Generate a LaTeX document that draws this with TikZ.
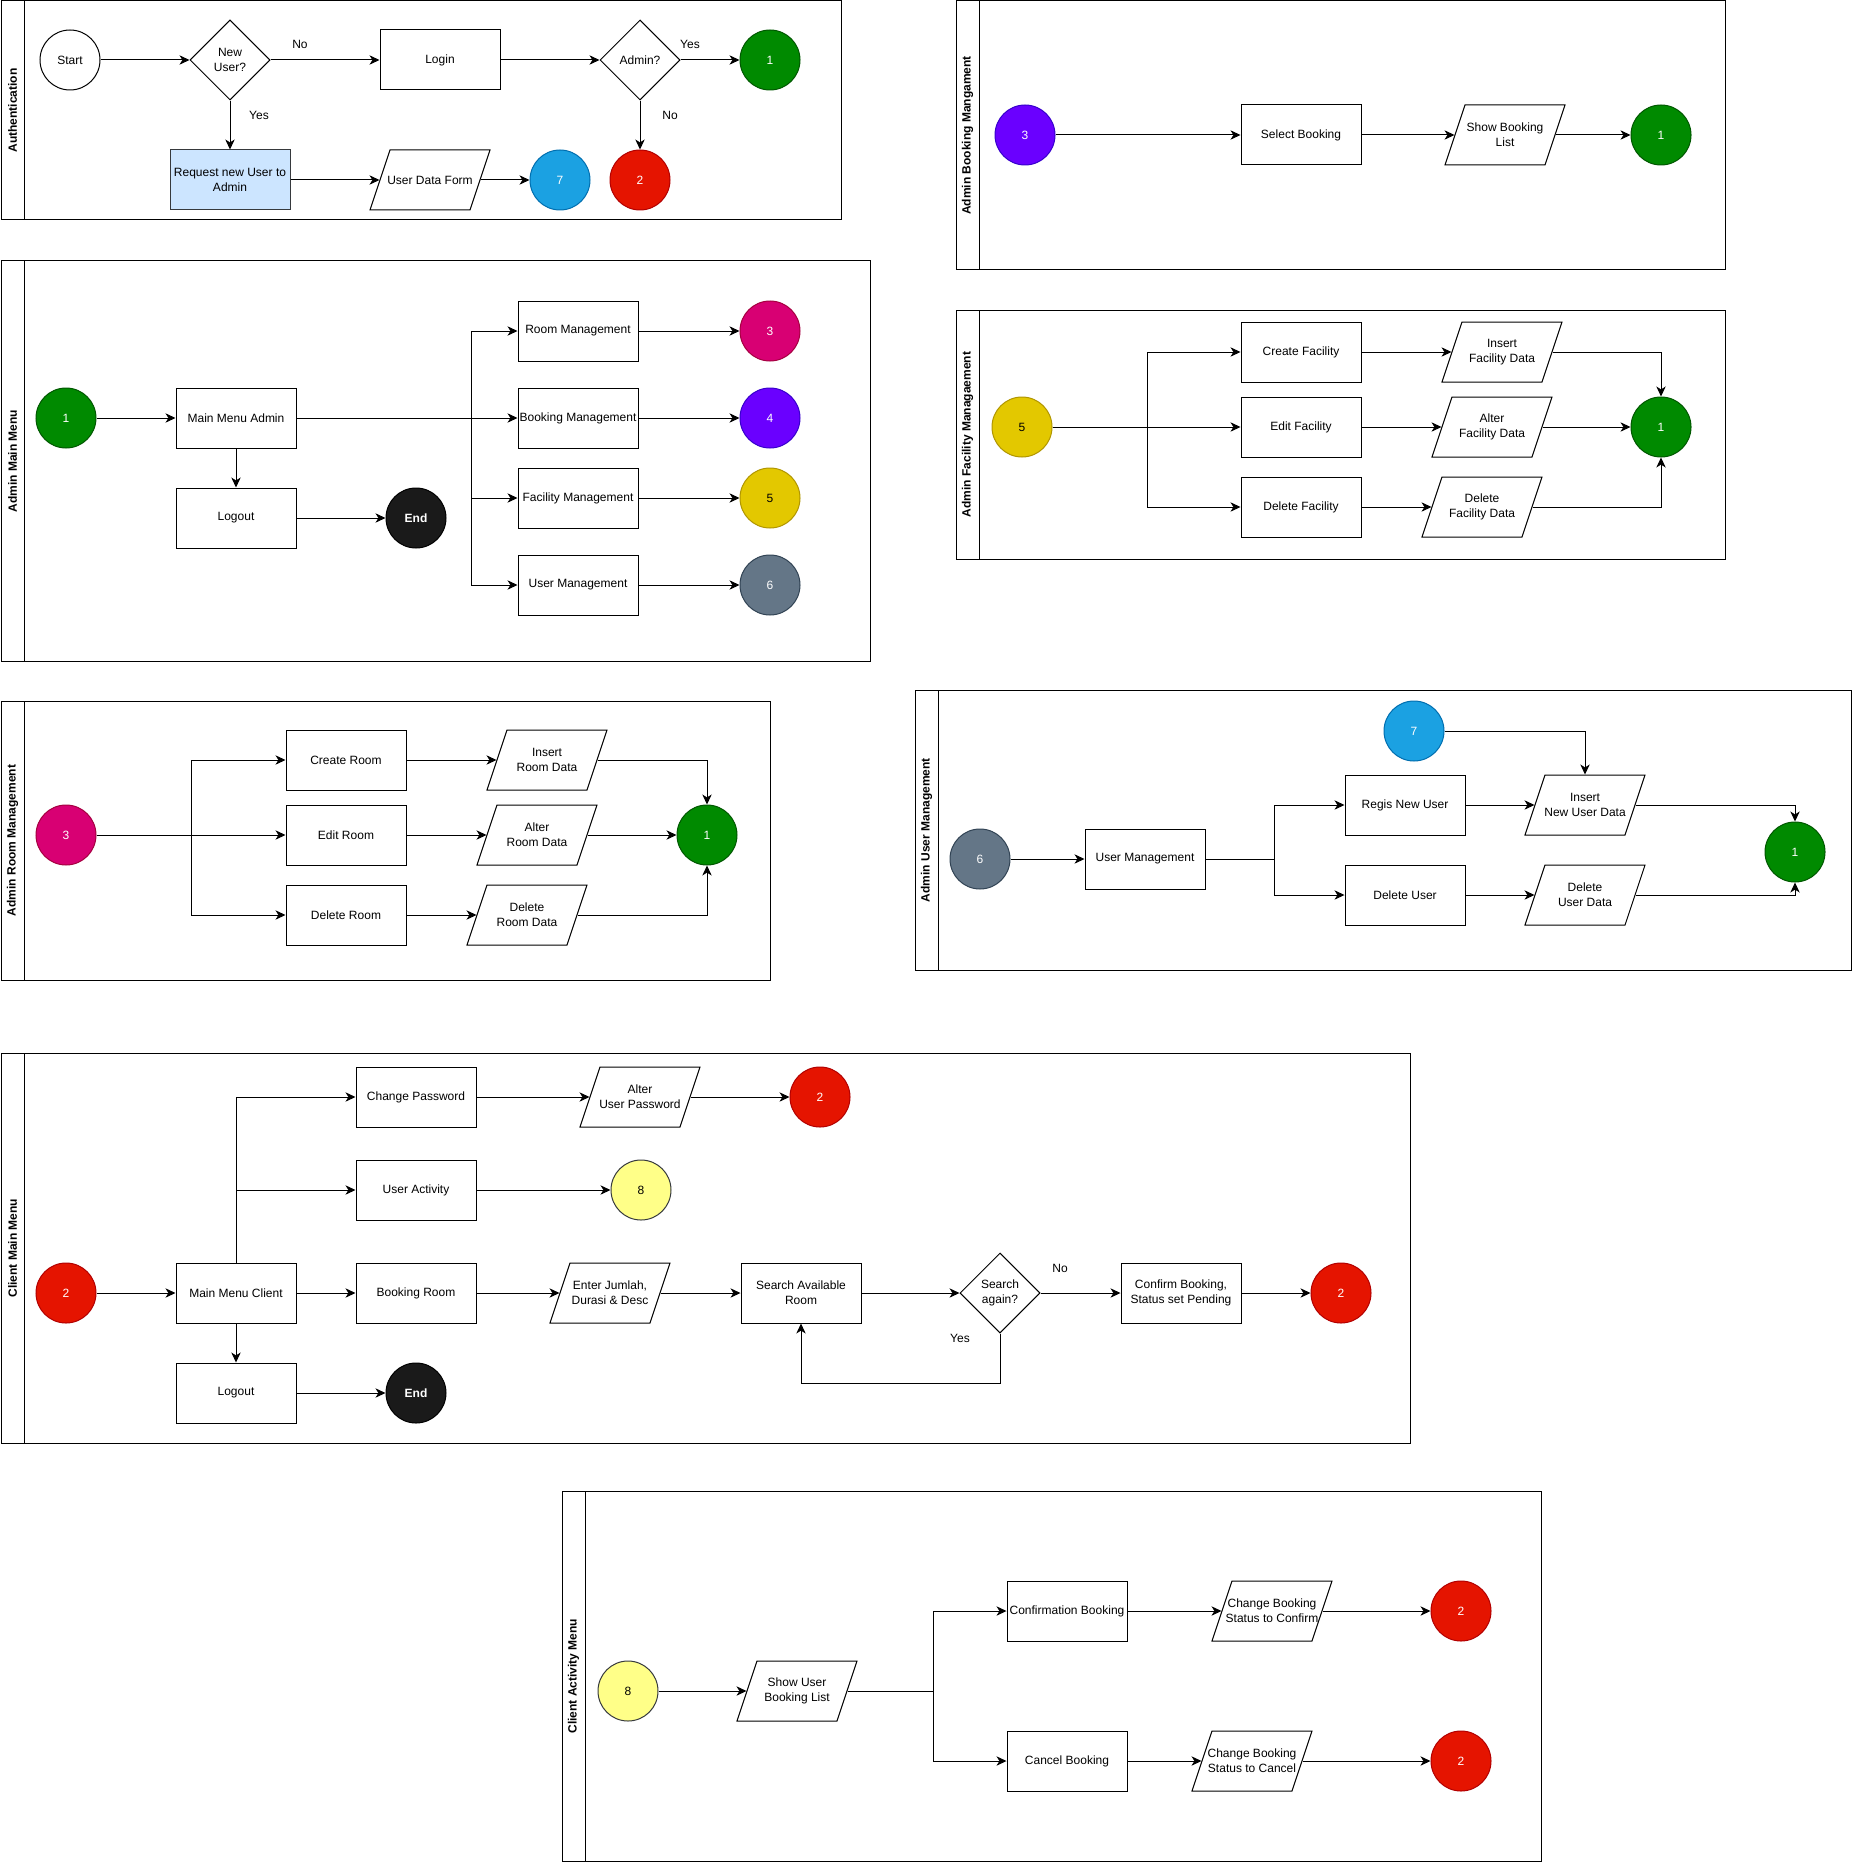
\documentclass[tikz,border=0pt]{standalone}
\usepackage{fontspec}
\setmainfont{Liberation Sans}
\usetikzlibrary{shapes.geometric,arrows.meta}
\definecolor{cgreen}{HTML}{008A00}\definecolor{cgreenS}{HTML}{005700}
\definecolor{cred}{HTML}{E51400}\definecolor{credS}{HTML}{B20000}
\definecolor{cblue}{HTML}{1BA1E2}\definecolor{cblueS}{HTML}{006EAF}
\definecolor{cpink}{HTML}{D80073}\definecolor{cpinkS}{HTML}{A50040}
\definecolor{cpurple}{HTML}{6A00FF}\definecolor{cpurpleS}{HTML}{3700CC}
\definecolor{cyellow}{HTML}{E3C800}\definecolor{cyellowS}{HTML}{B09500}
\definecolor{cgray}{HTML}{647687}\definecolor{cgrayS}{HTML}{314354}
\definecolor{clyellow}{HTML}{FFFF88}\definecolor{clyellowS}{HTML}{36393D}
\definecolor{cblack}{HTML}{1A1A1A}
\definecolor{reqfill}{HTML}{CCE5FF}\definecolor{reqstroke}{HTML}{36393D}

\newcommand{\swimlane}[6]{%
  \draw (#2,#3) rectangle (#4,#5);
  \draw (#2+23,#3) -- (#2+23,#5);
  \node[lanetitle] (#1) at (#2+11.5,{(#3+#5)/2}) {#6};
}
\newcommand{\parashape}[4]{%
  \node[pnode] (#1) at (#2,#3) {#4};
  \draw ([shift={(-60,30)}]#1.center) -- ([shift={(-40,-30)}]#1.center) -- ([shift={(60,-30)}]#1.center) -- ([shift={(40,30)}]#1.center) -- cycle;
}

\begin{document}
\begin{tikzpicture}[x=0.75pt,y=-0.75pt,line width=0.75pt,
  every node/.style={font=\fontsize{9}{11}\selectfont},
  box/.style={draw, rectangle, minimum width=90pt, minimum height=45pt, inner sep=0pt, align=center},
  circ/.style={circle, minimum size=45pt, inner sep=0pt, text=white, align=center},
  dia/.style={diamond, draw, minimum width=60pt, minimum height=60pt, inner sep=0pt, align=center},
  pnode/.style={rectangle, minimum width=75pt, minimum height=45pt, inner sep=0pt, align=center},
  arr/.style={-{Stealth[length=7.5pt,width=7pt,inset=2.2pt]}},
  lbl/.style={inner sep=1pt},
  lanetitle/.style={rotate=90, inner sep=0pt, font=\bfseries\fontsize{9}{11}\selectfont},
  cG/.style={circ, fill=cgreen, draw=cgreenS},
  cR/.style={circ, fill=cred, draw=credS},
  cB/.style={circ, fill=cblue, draw=cblueS},
  cPk/.style={circ, fill=cpink, draw=cpinkS},
  cPu/.style={circ, fill=cpurple, draw=cpurpleS},
  cY/.style={circ, fill=cyellow, draw=cyellowS, text=black},
  cGr/.style={circ, fill=cgray, draw=cgrayS},
  cLY/.style={circ, fill=clyellow, draw=clyellowS, text=black},
  cK/.style={circ, fill=cblack, draw=black, font=\bfseries\fontsize{9}{11}\selectfont},
]
\useasboundingbox (0,0) rectangle (1852,1862);

% ---------- lanes ----------
\swimlane{L1}{1}{1}{841}{220}{Authentication}
\swimlane{L2}{956}{1}{1725}{270}{Admin Booking Mangament}
\swimlane{L3}{1}{261}{870}{661}{Admin Main Menu}
\swimlane{L4}{956}{310}{1725}{559}{Admin Facility Managaement}
\swimlane{L5}{1}{701}{770}{980}{Admin Room Management}
\swimlane{L6}{915}{690}{1851}{970}{Admin User Management}
\swimlane{L7}{1}{1053}{1410}{1443}{Client Main Menu}
\swimlane{L8}{562}{1491}{1541}{1861}{Client Activity Menu}

% ---------- Authentication ----------
\node[circ, draw, text=black] (start) at (70,60) {Start};
\node[dia] (newuser) at (230,60) {New\\User?};
\node[box] (login) at (440,60) {Login};
\node[dia] (admin) at (640,60) {Admin?};
\node[cG] (a1) at (770,60) {1};
\node[box, fill=reqfill, draw=reqstroke] (req) at (230,180) {Request new User to\\Admin};
\parashape{udf}{430}{180}{User Data Form}
\node[cB] (a7) at (560,180) {7};
\node[cR] (a2) at (640,180) {2};
\node[lbl] (lno1) at (300,44) {No};
\node[lbl] (lyes1) at (690,44) {Yes};
\node[lbl] (lyes2) at (259,115) {Yes};
\node[lbl] (lno2) at (670,115) {No};
\draw[arr] (start) -- (newuser);
\draw[arr] (newuser) -- (login);
\draw[arr] (login) -- (admin);
\draw[arr] (admin) -- (a1);
\draw[arr] (newuser) -- (req);
\draw[arr] (admin) -- (a2);
\draw[arr] (req) -- (udf);
\draw[arr] (udf) -- (a7);

% ---------- Admin Booking Management ----------
\node[cPu] (b3) at (1025,135) {3};
\node[box] (selb) at (1301,135) {Select Booking};
\parashape{sbl}{1505}{135}{Show Booking\\List}
\node[cG] (b1) at (1661,135) {1};
\draw[arr] (b3) -- (selb);
\draw[arr] (selb) -- (sbl);
\draw[arr] (sbl) -- (b1);

% ---------- Admin Main Menu ----------
\node[cG] (m1) at (66,418) {1};
\node[box] (mma) at (236,418) {Main Menu Admin};
\node[box] (mlog) at (236,518) {Logout};
\node[cK] (mend) at (416,518) {End};
\node[box] (room) at (578,331) {Room Management};
\node[box] (bookm) at (578,418) {Booking Management};
\node[box] (facm) at (578,498) {Facility Management};
\node[box] (userm) at (578,585) {User Management};
\node[cPk] (m3) at (770,331) {3};
\node[cPu] (m4) at (770,418) {4};
\node[cY] (m5) at (770,498) {5};
\node[cGr] (m6) at (770,585) {6};
\coordinate (mmaB) at (471,418);
\draw[arr] (m1) -- (mma);
\draw[arr] (mma) -- (bookm);
\draw[arr] (mma.east) -- (mmaB) |- (room.west);
\draw[arr] (mma.east) -- (mmaB) |- (facm.west);
\draw[arr] (mma.east) -- (mmaB) |- (userm.west);
\draw[arr] (mma) -- (mlog);
\draw[arr] (mlog) -- (mend);
\draw[arr] (room) -- (m3);
\draw[arr] (bookm) -- (m4);
\draw[arr] (facm) -- (m5);
\draw[arr] (userm) -- (m6);

% ---------- Admin Facility Management ----------
\node[cY] (f5) at (1022,427) {5};
\node[box] (cf) at (1301,352) {Create Facility};
\node[box] (ef) at (1301,427) {Edit Facility};
\node[box] (df) at (1301,507) {Delete Facility};
\parashape{ifd}{1502}{352}{Insert\\Facility Data}
\parashape{afd}{1492}{427}{Alter\\Facility Data}
\parashape{dfd}{1482}{507}{Delete\\Facility Data}
\node[cG] (f1) at (1661,427) {1};
\coordinate (f5B) at (1147,427);
\draw[arr] (f5.east) -- (f5B) |- (cf.west);
\draw[arr] (f5) -- (ef);
\draw[arr] (f5.east) -- (f5B) |- (df.west);
\draw[arr] (cf) -- (ifd);
\draw[arr] (ef) -- (afd);
\draw[arr] (df) -- (dfd);
\draw[arr] (ifd.east) -| (f1.north);
\draw[arr] (afd) -- (f1);
\draw[arr] (dfd.east) -| (f1.south);

% ---------- Admin Room Management ----------
\node[cPk] (r3) at (66,835) {3};
\node[box] (cr) at (346,760) {Create Room};
\node[box] (er) at (346,835) {Edit Room};
\node[box] (dr) at (346,915) {Delete Room};
\parashape{ird}{547}{760}{Insert\\Room Data}
\parashape{ard}{537}{835}{Alter\\Room Data}
\parashape{drd}{527}{915}{Delete\\Room Data}
\node[cG] (r1) at (707,835) {1};
\coordinate (r3B) at (191,835);
\draw[arr] (r3.east) -- (r3B) |- (cr.west);
\draw[arr] (r3) -- (er);
\draw[arr] (r3.east) -- (r3B) |- (dr.west);
\draw[arr] (cr) -- (ird);
\draw[arr] (er) -- (ard);
\draw[arr] (dr) -- (drd);
\draw[arr] (ird.east) -| (r1.north);
\draw[arr] (ard) -- (r1);
\draw[arr] (drd.east) -| (r1.south);

% ---------- Admin User Management ----------
\node[cGr] (u6) at (980,859) {6};
\node[box] (um) at (1145,859) {User Management};
\node[box] (rnu) at (1405,805) {Regis New User};
\node[box] (du) at (1405,895) {Delete User};
\node[cB] (u7) at (1414,731) {7};
\parashape{inud}{1585}{805}{Insert\\New User Data}
\parashape{dud}{1585}{895}{Delete\\User Data}
\node[cG] (u1) at (1795,852) {1};
\coordinate (umB) at (1274,859);
\draw[arr] (u6) -- (um);
\draw[arr] (um.east) -- (umB) |- (rnu.west);
\draw[arr] (um.east) -- (umB) |- (du.west);
\draw[arr] (rnu) -- (inud);
\draw[arr] (du) -- (dud);
\draw[arr] (u7.east) -| (inud.north);
\draw[arr] (inud.east) -| (u1.north);
\draw[arr] (dud.east) -| (u1.south);

% ---------- Client Main Menu ----------
\node[cR] (c2) at (66,1293) {2};
\node[box] (mmc) at (236,1293) {Main Menu Client};
\node[box] (clog) at (236,1393) {Logout};
\node[cK] (cend) at (416,1393) {End};
\node[box] (cp) at (416,1097) {Change Password};
\node[box] (ua) at (416,1190) {User Activity};
\node[box] (bkr) at (416,1293) {Booking Room};
\parashape{aup}{640}{1097}{Alter\\User Password}
\node[cR] (cc2) at (820,1097) {2};
\node[cLY] (c8) at (641,1190) {8};
\parashape{ej}{610}{1293}{Enter Jumlah,\\Durasi \& Desc}
\node[box] (sar) at (801,1293) {Search Available\\Room};
\node[dia] (sa) at (1000,1293) {Search\\again?};
\node[box] (cbk) at (1181,1293) {Confirm Booking,\\Status set Pending};
\node[cR] (c2b) at (1341,1293) {2};
\node[lbl] (lno3) at (1060,1268) {No};
\node[lbl] (lyes3) at (960,1338) {Yes};
\coordinate (loopB) at (1000,1383);
\draw[arr] (c2) -- (mmc);
\draw[arr] (mmc.north) |- (cp.west);
\draw[arr] (mmc.north) |- (ua.west);
\draw[arr] (mmc) -- (bkr);
\draw[arr] (mmc) -- (clog);
\draw[arr] (clog) -- (cend);
\draw[arr] (cp) -- (aup);
\draw[arr] (aup) -- (cc2);
\draw[arr] (ua) -- (c8);
\draw[arr] (bkr) -- (ej);
\draw[arr] (ej) -- (sar);
\draw[arr] (sar) -- (sa);
\draw[arr] (sa) -- (cbk);
\draw[arr] (cbk) -- (c2b);
\draw[arr] (sa.south) -- (loopB) -| (sar.south);

% ---------- Client Activity Menu ----------
\node[cLY] (k8) at (628,1691) {8};
\parashape{sub}{797}{1691}{Show User\\Booking List}
\node[box] (cb) at (1067,1611) {Confirmation Booking};
\node[box] (cnb) at (1067,1761) {Cancel Booking};
\parashape{cbc}{1272}{1611}{Change Booking\\Status to Confirm}
\parashape{cbn}{1252}{1761}{Change Booking\\Status to Cancel}
\node[cR] (k2a) at (1461,1611) {2};
\node[cR] (k2b) at (1461,1761) {2};
\coordinate (subB) at (933,1691);
\draw[arr] (k8) -- (sub);
\draw[arr] (sub.east) -- (subB) |- (cb.west);
\draw[arr] (sub.east) -- (subB) |- (cnb.west);
\draw[arr] (cb) -- (cbc);
\draw[arr] (cnb) -- (cbn);
\draw[arr] (cbc) -- (k2a);
\draw[arr] (cbn) -- (k2b);
\end{tikzpicture}
\end{document}
